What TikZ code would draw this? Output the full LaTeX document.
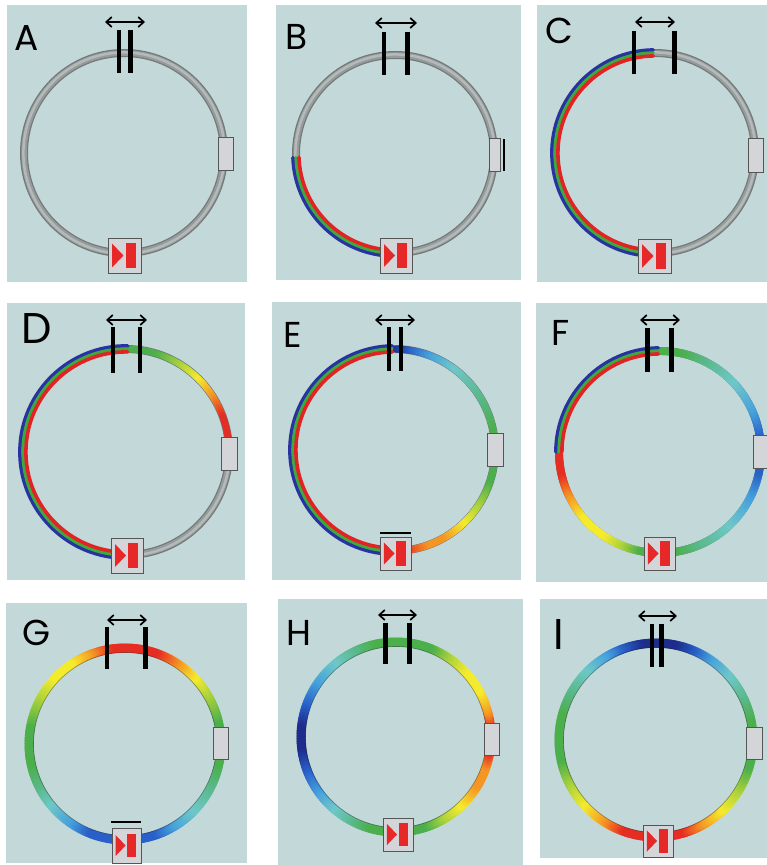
\documentclass[tikz,border=0pt]{standalone}
\usepackage{fontspec}
\setmainfont{Poppins}
\usetikzlibrary{arrows.meta}
\definecolor{bgc}{RGB}{195,217,217}
\definecolor{tubeA}{RGB}{115,120,120}
\definecolor{tubeB}{RGB}{150,155,155}
\definecolor{tubeC}{RGB}{180,185,185}
\definecolor{boxf}{RGB}{212,213,217}
\definecolor{boxd}{RGB}{85,85,85}
\definecolor{srcred}{RGB}{230,40,40}
\definecolor{sB}{RGB}{40,50,160}
\definecolor{sG}{RGB}{60,170,60}
\definecolor{sR}{RGB}{225,35,35}
\definecolor{jDB}{RGB}{30,45,140}
\definecolor{jB}{RGB}{40,95,200}
\definecolor{jLB}{RGB}{70,160,220}
\definecolor{jC}{RGB}{110,200,200}
\definecolor{jTG}{RGB}{90,185,140}
\definecolor{jG}{RGB}{75,175,75}
\definecolor{jYG}{RGB}{170,210,60}
\definecolor{jY}{RGB}{245,235,45}
\definecolor{jO}{RGB}{245,150,35}
\definecolor{jR}{RGB}{230,45,35}
\tikzset{
  panelbg/.style={fill=bgc},
  dblarrow/.style={line width=1.7pt,{Straight Barb[length=5.5pt,width=10pt]}-{Straight Barb[length=5.5pt,width=10pt]}},
  barsty/.style={line width=4.5pt},
  lbl/.style={inner sep=0pt,anchor=base west,font=\fontsize{36}{36}\selectfont},
  lblbig/.style={inner sep=0pt,anchor=base west,font=\fontsize{43}{43}\selectfont},
}
\newcommand\tubering[1]{%
  \draw[tubeA,line width=8pt] (0,0) circle[radius=#1];
  \draw[tubeB,line width=5.5pt] (0,0) circle[radius=#1];
  \draw[tubeC,line width=2.5pt] (0,0) circle[radius=#1+0.6];
}
\newcommand\stripes[3]{%
  \draw[sB,line width=3.6pt,line cap=round] ({#2}:{#1+3.1}) arc[start angle=#2,end angle=#3,radius=#1+3.1];
  \draw[sG,line width=3pt,line cap=round] ({#2}:{#1+0.2}) arc[start angle=#2,end angle=#3,radius=#1+0.2];
  \draw[sR,line width=3.6pt,line cap=round] ({#2}:{#1-2.9}) arc[start angle=#2,end angle=#3,radius=#1-2.9];
}
\newcommand\gradarc[3]{%
  \foreach \gAng/\gCol [count=\gK, remember=\gAng as \gPang (initially 0), remember=\gCol as \gPcol (initially jG)] in {#3}{%
    \ifnum\gK>1\relax
      \pgfmathtruncatemacro\gN{max(1,round(abs(\gAng-\gPang)/1.5))}%
      \foreach \gi in {1,...,\gN}{%
        \pgfmathsetmacro\gA{\gPang+(\gAng-\gPang)*(\gi-1)/\gN}%
        \pgfmathsetmacro\gB{\gPang+(\gAng-\gPang)*\gi/\gN}%
        \pgfmathtruncatemacro\gP{100-100*(\gi-0.5)/\gN}%
        \draw[line width=#2,line cap=round,draw=\gPcol!\gP!\gCol] (\gA:#1) arc[start angle=\gA,end angle=\gB,radius=#1];
      }%
    \fi
  }%
}
\newcommand\srcbox[4]{%
  \filldraw[boxf,draw=boxd,line width=0.9pt] ({#1-#3/2},{#2-#4/2}) rectangle ({#1+#3/2},{#2+#4/2});
  \fill[srcred] ({#1-12*#3/32},{#2-11.5*#3/32}) -- ({#1-12*#3/32},{#2+11.5*#3/32}) -- ({#1-1*#3/32},#2) -- cycle;
  \fill[srcred] ({#1+1*#3/32},{#2-12.5*#3/32}) rectangle ({#1+11*#3/32},{#2+12.5*#3/32});
}
\newcommand\detbox[4]{%
  \filldraw[boxf,draw=boxd,line width=0.9pt] ({#1-#3/2},{#2-#4/2}) rectangle ({#1+#3/2},{#2+#4/2});
}
\begin{document}
\begin{tikzpicture}[x=1pt,y=-1pt]
\useasboundingbox (0,0) rectangle (767,865);
\fill[white] (0,0) rectangle (767,865);
% backgrounds
\fill[panelbg] (7,5) rectangle (247,282);
\fill[panelbg] (276,5) rectangle (521,280);
\fill[panelbg] (537,5) rectangle (767,282);
\fill[panelbg] (7,303) rectangle (245,580);
\fill[panelbg] (272,302) rectangle (521,580);
\fill[panelbg] (536,303) rectangle (767,582);
\fill[panelbg] (6,603) rectangle (247,863);
\fill[panelbg] (278,599) rectangle (523,865);
\fill[panelbg] (540,599) rectangle (767,858);

% ---------- A ----------
\begin{scope}[shift={(124,153)},yscale=-1]
  \tubering{100}
\end{scope}
% ---------- B ----------
\begin{scope}[shift={(395,154)},yscale=-1]
  \tubering{99}
  \stripes{99}{182}{266}
\end{scope}
% ---------- C ----------
\begin{scope}[shift={(655,153)},yscale=-1]
  \tubering{100}
  \stripes{100}{91}{266}
\end{scope}
% ---------- D ----------
\begin{scope}[shift={(126,452)},yscale=-1]
  \tubering{103}
  \gradarc{103}{6.5pt}{89/jG,72/jG,57/jYG,44/jY,32/jO,20/jR,6/jR}
  \stripes{103}{89}{264}
\end{scope}
% ---------- E ----------
\begin{scope}[shift={(394,450)},yscale=-1]
  \tubering{101}
  \gradarc{101}{7pt}{89/jDB,80/jB,68/jLB,52/jC,30/jTG,10/jG,-20/jG,-35/jYG,-48/jY,-62/jO,-72/jO,-86/jR}
  \stripes{101}{91}{265}
\end{scope}
% ---------- F ----------
\begin{scope}[shift={(660,452)},yscale=-1]
  \tubering{101}
  \gradarc{101}{8pt}{182/jR,195/jR,208/jO,222/jY,238/jY,250/jYG,260/jG,280/jG,295/jTG,315/jC,335/jLB,350/jB,370/jB,385/jLB,405/jC,425/jTG,440/jG,449/jG}
  \stripes{101}{180}{91}
\end{scope}
% ---------- G ----------
\begin{scope}[shift={(125,744)},yscale=-1]
  \gradarc{96}{9pt}{90/jR,100/jR,112/jO,125/jY,140/jY,155/jYG,172/jG,195/jG,210/jTG,222/jC,238/jLB,250/jB,290/jB,302/jLB,318/jC,335/jTG,350/jG,375/jG,392/jYG,405/jY,418/jO,432/jR,450/jR}
  \draw[black,opacity=.35,line width=0.7pt] (0,0) circle[radius=91.5];
\end{scope}
% ---------- H ----------
\begin{scope}[shift={(396,737)},yscale=-1]
  \gradarc{95}{9pt}{90/jG,105/jG,118/jTG,132/jC,148/jLB,163/jB,175/jDB,190/jDB,203/jB,218/jLB,232/jC,245/jTG,256/jG,290/jG,302/jYG,315/jY,330/jO,342/jO,352/jR,368/jR,376/jO,390/jY,405/jY,418/jYG,430/jG,450/jG}
  \draw[black,opacity=.35,line width=0.7pt] (0,0) circle[radius=90.5];
\end{scope}
% ---------- I ----------
\begin{scope}[shift={(656,740)},yscale=-1]
  \gradarc{97}{9pt}{90/jDB,100/jDB,112/jB,122/jLB,137/jC,152/jTG,167/jG,195/jG,210/jYG,225/jY,240/jO,252/jR,288/jR,300/jO,315/jY,330/jYG,345/jG,373/jG,388/jTG,403/jC,418/jLB,428/jB,440/jDB,450/jDB}
  \draw[black,opacity=.35,line width=0.7pt] (0,0) circle[radius=92.5];
\end{scope}

% bars
\draw[barsty] (119,30) -- (119,73);   \draw[barsty] (130.5,30) -- (130.5,73);
\draw[barsty] (384,32) -- (384,75);   \draw[barsty] (407.5,32) -- (407.5,75);
\draw[barsty] (634,31) -- (634,74);   \draw[barsty] (674.5,31) -- (674.5,74);
\draw[barsty] (113,327) -- (113,373); \draw[barsty] (140,327) -- (140,373);
\draw[barsty] (389,327) -- (389,371); \draw[barsty] (401,327) -- (401,371);
\draw[barsty] (647.5,328) -- (647.5,372); \draw[barsty] (671.5,328) -- (671.5,372);
\draw[barsty] (107,627) -- (107,669); \draw[barsty] (145.5,627) -- (145.5,669);
\draw[barsty] (385.5,623) -- (385.5,664); \draw[barsty] (409.5,623) -- (409.5,664);
\draw[barsty] (652,624) -- (652,667); \draw[barsty] (661.5,624) -- (661.5,667);

% arrows
\draw[dblarrow] (105,22) -- (145,22);
\draw[dblarrow] (375,23) -- (417,23);
\draw[dblarrow] (635,22) -- (675,22);
\draw[dblarrow] (106,320) -- (147,320);
\draw[dblarrow] (375,320) -- (415,320);
\draw[dblarrow] (640,320) -- (680,320);
\draw[dblarrow] (107,620) -- (147,620);
\draw[dblarrow] (378,615) -- (417,615);
\draw[dblarrow] (638,616) -- (677,616);

% right boxes
\detbox{225.5}{153.5}{15}{33}
\detbox{494.5}{154.5}{11}{33}
\draw[line width=1.5pt] (504,139) -- (504,171);
\detbox{755.5}{155}{15}{34}
\detbox{229}{453.5}{16}{33}
\detbox{495}{449.5}{16}{33}
\detbox{761}{451.5}{16}{33}
\detbox{220.5}{743}{15}{32}
\detbox{491.5}{739}{15}{32}
\detbox{754}{743}{16}{32}

% bottom boxes
\srcbox{124.5}{255.5}{33}{35}
\srcbox{396}{255.5}{32}{35}
\srcbox{654.5}{256}{33}{34}
\srcbox{127}{555.5}{32}{35}
\srcbox{395.5}{553.5}{31}{33}
\draw[line width=1.6pt] (380,533) -- (411,533);
\srcbox{659.5}{553.5}{31}{33}
\srcbox{126.5}{845.5}{29}{35}
\draw[line width=1.6pt] (111,822) -- (141,822);
\srcbox{398}{834.5}{30}{33}
\srcbox{658}{841}{30}{32}

% labels
\node[lbl] (labA) at (14,50) {A};
\node[lbl] (labB) at (285,49) {B};
\node[lbl] (labC) at (545,43) {C};
\node[lblbig] (labD) at (21,343) {D};
\node[lbl] (labE) at (283,347) {E};
\node[lbl] (labF) at (551,345) {F};
\node[lbl] (labG) at (22,645) {G};
\node[lbl] (labH) at (286,645) {H};
\node[lblbig] (labI) at (553,649) {I};
\end{tikzpicture}
\end{document}
